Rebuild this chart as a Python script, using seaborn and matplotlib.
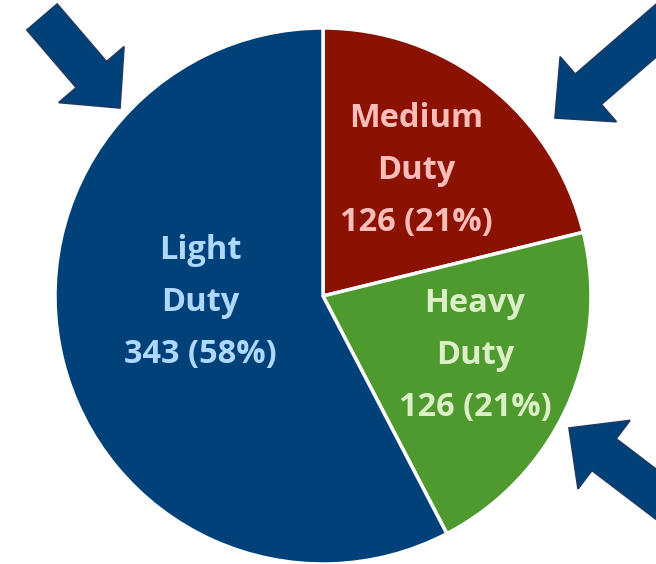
import matplotlib
matplotlib.use("Agg")
import matplotlib.pyplot as plt
import seaborn as sns
import numpy as np
from matplotlib.patches import Polygon

sns.set_theme(style="white")
plt.rcParams['font.family'] = ['Open Sans', 'DejaVu Sans']

categories = ["Medium Duty", "Heavy Duty", "Light Duty"]
names = [["Medium", "Duty"], ["Heavy", "Duty"], ["Light", "Duty"]]
values = [126, 126, 343]
percents = ["21%", "21%", "58%"]
colors = ["#8B1103", "#4E9A2F", "#00417A"]
text_colors = ["#FFBDBA", "#DCF0C8", "#AED8FF"]

W, H = 656, 564
fig = plt.figure(figsize=(W / 100, H / 100), dpi=100)

# overlay for arrows (pixel coordinates)
ov = fig.add_axes([0, 0, 1, 1])
ov.set_xlim(0, W)
ov.set_ylim(H, 0)
ov.axis("off")

def block_arrow(tail, tip, shaft_w, head_w, head_l):
    tail = np.array(tail, float); tip = np.array(tip, float)
    d = tip - tail; L = np.linalg.norm(d); u = d / L
    n = np.array([-u[1], u[0]])
    base = tip - u * head_l
    pts = [tail + n * shaft_w / 2, base + n * shaft_w / 2, base + n * head_w / 2, tip,
           base - n * head_w / 2, base - n * shaft_w / 2, tail - n * shaft_w / 2]
    ov.add_patch(Polygon(pts, closed=True, facecolor="#00417A", edgecolor="#1C3A63", lw=1.2, zorder=1))

block_arrow((42, 17), (120, 108), 40, 86, 44)
block_arrow((680, 10), (555, 118), 40, 86, 44)
block_arrow((690, 520), (569, 428), 40, 86, 44)

# pie
cx, cy, R = 323, 296, 268
ax = fig.add_axes([(cx - R) / W, (H - cy - R) / H, 2 * R / W, 2 * R / H])
ax.pie(values, colors=colors, startangle=90, counterclock=False,
       wedgeprops=dict(edgecolor="white", linewidth=2.5))
ax.set_xlim(-1, 1)
ax.set_ylim(-1, 1)
ax.axis("off")

def px(p):
    return ((p[0] - cx) / R, (cy - p[1]) / R)

label_pos = [(416, 119), (475, 304), (200, 251)]
step = 52
for i in range(3):
    x0, y0 = label_pos[i]
    lines = names[i] + [f"{values[i]} ({percents[i]})"]
    for j, s in enumerate(lines):
        xx, yy = px((x0, y0 + j * step))
        ax.text(xx, yy, s, ha="center", va="center", fontsize=23.5, fontweight="bold",
                color=text_colors[i])

fig.savefig("out.png", dpi=100)
